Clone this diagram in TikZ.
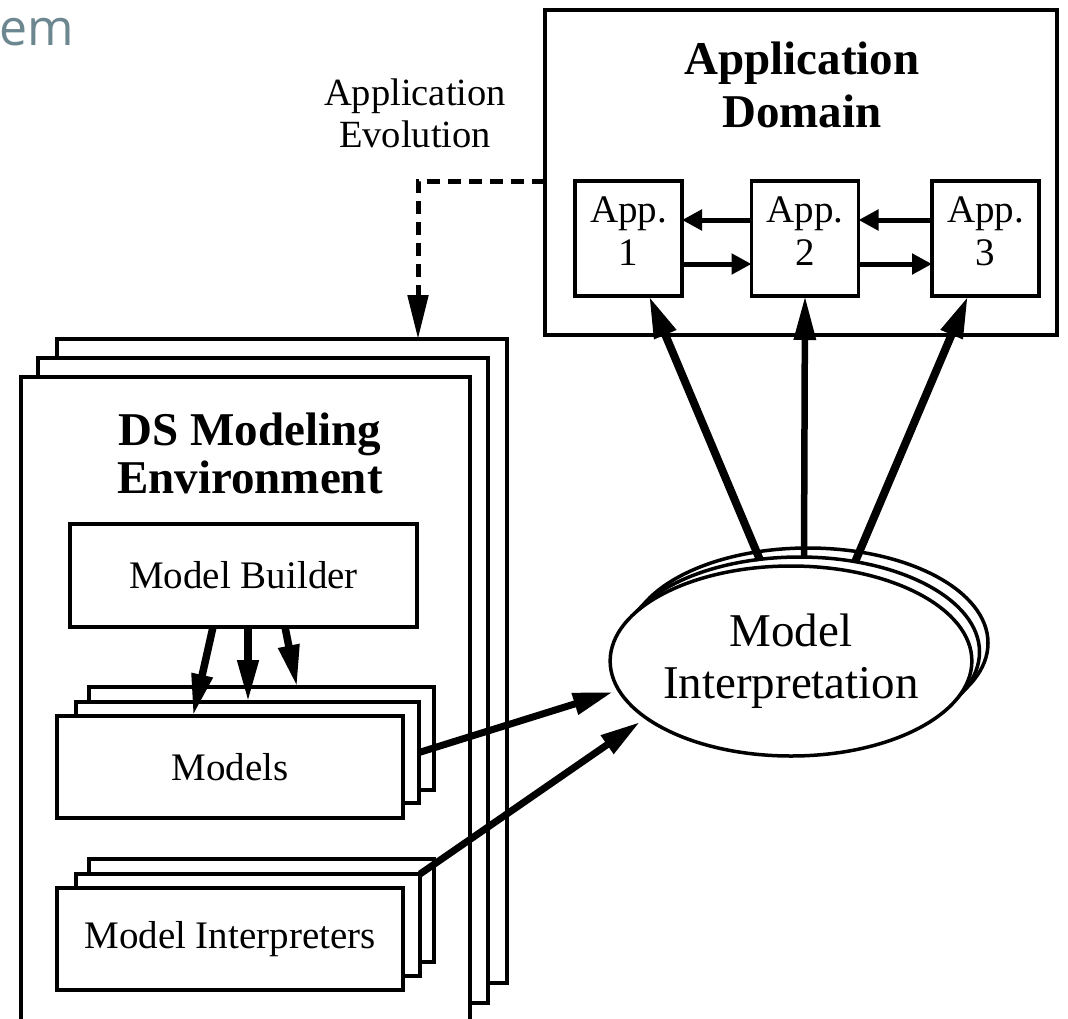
\documentclass[tikz,border=0pt]{standalone}
\usepackage{fontspec}
\setmainfont{Liberation Serif}
\newfontfamily\slidefont{Open Sans}
\usetikzlibrary{arrows.meta,shapes.geometric}

\definecolor{slidegray}{HTML}{6D8790}

\tikzset{
  frame/.style={draw=black, fill=white, line width=4.5pt, inner sep=0pt, outer sep=0pt},
  smallbox/.style={draw=black, fill=white, line width=3.5pt, inner sep=0pt, outer sep=0pt},
  appbox/.style={draw=black, fill=white, line width=3.3pt, inner sep=0pt, outer sep=0pt,
    minimum width=107pt, minimum height=115pt},
  oval/.style={ellipse, draw=black, fill=white, line width=3.5pt, inner sep=0pt,
    outer sep=0pt, minimum width=360pt, minimum height=190pt},
  plain/.style={font=\fontsize{39pt}{43pt}\selectfont, align=center, inner sep=0pt},
  title/.style={font=\fontsize{47pt}{53pt}\selectfont\bfseries, align=center, inner sep=0pt},
  linkarrow/.style={line width=5pt, -{Triangle[length=20pt,width=20pt]}},
  bigarrow/.style={line width=8pt, -{Triangle[length=42pt,width=22pt]}},
  midarrow/.style={line width=6.5pt, -{Triangle[length=44pt,width=21pt]}},
  feedarrow/.style={line width=7pt, -{Triangle[length=40pt,width=21pt]}},
  buildarrow/.style={line width=7.5pt, -{Triangle[length=42pt,width=20pt]}},
  evolarrow/.style={line width=5pt, dash pattern=on 13pt off 8pt,
    -{Triangle[length=44pt,width=20pt]}}
}

\begin{document}
\begin{tikzpicture}[x=1pt, y=-1pt]
\clip (0,0) rectangle (1068,1018);
\fill[white] (0,0) rectangle (1068,1018);

% heading fragment of the slide
\node[font=\slidefont\fontsize{50pt}{56pt}\selectfont, text=slidegray, inner sep=0pt,
  anchor=base west] (heading) at (-1,45) {em};

% application domain
\node[frame, minimum width=512pt, minimum height=325pt] (domain) at (801,172.5) {};
\node[title] (domaintitle) at (802,85) {Application\\Domain};
\node[appbox] (app1) at (628.5,238.5) {};
\node[appbox] (app2) at (805,238.5) {};
\node[appbox] (app3) at (985.5,238.5) {};
\node[plain] (app1t) at ([yshift=7pt]app1.center) {App.\\1};
\node[plain] (app2t) at ([yshift=7pt]app2.center) {App.\\2};
\node[plain] (app3t) at ([yshift=7pt]app3.center) {App.\\3};

\draw[linkarrow] ([yshift=18.5pt]app2.west) -- ([yshift=18.5pt]app1.east);
\draw[linkarrow] ([yshift=18.5pt]app3.west) -- ([yshift=18.5pt]app2.east);
\draw[linkarrow] ([yshift=-25.5pt]app1.east) -- ([yshift=-25.5pt]app2.west);
\draw[linkarrow] ([yshift=-25.5pt]app2.east) -- ([yshift=-25.5pt]app3.west);

% evolution label
\node[plain, font=\fontsize{38.5pt}{42pt}\selectfont] (evol) at (415,113) {Application\\Evolution};

% modeling environment stack
\node[frame, minimum width=450pt, minimum height=644pt] (dsback) at (282,661) {};
\node[frame, minimum width=450pt, minimum height=645pt] (dsmid) at (263,680.5) {};
\node[frame, minimum width=449pt, minimum height=663pt] (dsfront) at (245.5,708.5) {};
\node[title, font=\fontsize{47pt}{48pt}\selectfont\bfseries] (dstitle) at (250,453) {DS Modeling\\Environment};

\draw[evolarrow] ([yshift=-8.5pt]domain.west) -| ([xshift=136pt]dsback.north);

% model builder
\node[smallbox, minimum width=347pt, minimum height=103pt, plain] (builder) at (243.5,575.5) {Model Builder};

% models stack
\node[smallbox, minimum width=345pt, minimum height=103pt] (mback) at (261.5,738.5) {};
\node[smallbox, minimum width=343pt, minimum height=101pt] (mmid) at (247.5,752.5) {};
\node[smallbox, minimum width=346pt, minimum height=102pt, plain] (mfront) at (230,767) {Models};

% interpreters stack
\node[smallbox, minimum width=345pt, minimum height=103pt] (iback) at (261.5,910.5) {};
\node[smallbox, minimum width=344pt, minimum height=102pt] (imid) at (248,925) {};
\node[smallbox, minimum width=346pt, minimum height=102pt, plain] (ifront) at (230,939) {Model Interpreters};

% builder produces models
\draw[buildarrow] ([xshift=-30.5pt]builder.south) -- ([xshift=-37pt]mfront.north);
\draw[buildarrow] ([xshift=4.5pt]builder.south) -- ([xshift=0.5pt]mmid.north);
\draw[buildarrow] ([xshift=41.5pt]builder.south) -- ([xshift=35.5pt]mback.north);

% model interpretation stack
\node[oval] (miback) at (808,643) {};
\node[oval] (mimid) at (799.5,652) {};
\node[oval, plain, font=\fontsize{47pt}{52pt}\selectfont] (mi) at (791,661) {Model\\Interpretation};

% inputs to interpretation
\draw[feedarrow] (mmid.east) -- ([xshift=-178pt,yshift=-31pt]mi.center);
\draw[feedarrow] (imid.north east) -- ([xshift=-151pt,yshift=-61pt]mi.center);

% interpretation generates applications
\draw[bigarrow] ([xshift=-31pt,yshift=101pt]mi.center) -- ([xshift=20.5pt]app1.south);
\draw[midarrow] ([xshift=13pt,yshift=104pt]mi.center) -- (app2.south);
\draw[bigarrow] ([xshift=64pt,yshift=99pt]mi.center) -- ([xshift=-17.5pt]app3.south);
\end{tikzpicture}
\end{document}
